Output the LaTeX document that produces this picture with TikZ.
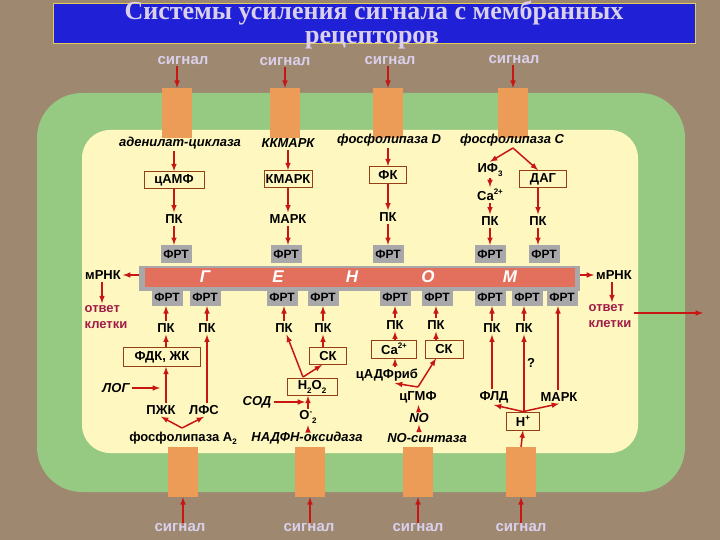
\documentclass[tikz,border=0pt]{standalone}
\usepackage{fontspec}
\setmainfont{Liberation Sans}
\newfontfamily\titlefont{Liberation Serif}

\definecolor{bgbrown}{RGB}{158,136,112}
\definecolor{titleblue}{RGB}{32,32,215}
\definecolor{titleedge}{RGB}{225,205,90}
\definecolor{siglav}{RGB}{218,208,236}
\definecolor{cellgreen}{RGB}{150,202,130}
\definecolor{cellyellow}{RGB}{254,248,192}
\definecolor{recorange}{RGB}{236,156,86}
\definecolor{arrred}{RGB}{200,22,18}
\definecolor{genred}{RGB}{226,112,92}
\definecolor{frtgray}{RGB}{168,168,170}
\definecolor{boxbrown}{RGB}{150,62,22}
\definecolor{respred}{RGB}{160,28,72}

\newcommand{\lowtxt}[1]{\raisebox{-0.45ex}{\fontsize{8}{8}\selectfont #1}}
\newcommand{\hightxt}[1]{\raisebox{0.85ex}{\fontsize{8}{8}\selectfont #1}}

\begin{document}
\begin{tikzpicture}[x=1pt,y=-1pt,>=latex,
    lbl/.style={draw=none,align=center,font=\bfseries\fontsize{13}{15}\selectfont,inner sep=2pt},
    ital/.style={lbl,font=\bfseries\itshape\fontsize{13}{15}\selectfont},
    box/.style={lbl,draw=boxbrown,line width=0.8pt,inner sep=1pt,minimum height=17pt},
    frt/.style={lbl,fill=frtgray,font=\bfseries\fontsize{12}{14}\selectfont,minimum width=31pt,minimum height=18pt,inner sep=1pt},
    rec/.style={fill=recorange,minimum width=30pt,minimum height=50pt,inner sep=0pt},
    sig/.style={draw=none,text=siglav,font=\bfseries\fontsize{15}{17}\selectfont,inner sep=1pt},
    arr/.style={->,draw=arrred,line width=1.5pt},
    resp/.style={lbl,text=respred,align=left,font=\bfseries\fontsize{13}{16}\selectfont}]
    \fill [bgbrown] (0,0) rectangle (720,540);
    \useasboundingbox (0,0) rectangle (720,540);

    % title
    \draw [titleedge,fill=titleblue,line width=0.8pt] (53,3) rectangle (695,43);
    \node [draw=none,text=siglav,inner sep=0pt,font=\titlefont\bfseries\fontsize{26}{28}\selectfont, name=ttl1] at (374,13) {Системы усиления сигнала с мембранных};
    \node [draw=none,text=siglav,inner sep=0pt,font=\titlefont\bfseries\fontsize{26}{28}\selectfont, name=ttl2] at (372,40) {рецепторов};

    % cell
    \fill [cellgreen,rounded corners=45pt] (37,93) rectangle (685,492);
    \fill [cellyellow,rounded corners=28pt] (82,130) rectangle (638,453);

    % receptors above
    \node [rec, name=t1] at (177,113) {};
    \node [rec, name=t2] at (285,113) {};
    \node [rec, name=t3] at (388,113) {};
    \node [rec, name=t4] at (513,113) {};
    \node [sig, name=s1] at (183,61) {сигнал};
    \node [sig, name=s2] at (285,62) {сигнал};
    \node [sig, name=s3] at (390,61) {сигнал};
    \node [sig, name=s4] at (514,60) {сигнал};
    \draw [arr] (s1.south -| t1) -- (t1.north);
    \draw [arr] (s2.south -| t2) -- (t2.north);
    \draw [arr] (s3.south -| t3) -- (t3.north);
    \draw [arr] (s4.south -| t4) -- (t4.north);

    % receptors below
    \node [rec, name=u1] at (183,472) {};
    \node [rec, name=u2] at (310,472) {};
    \node [rec, name=u3] at (418,472) {};
    \node [rec, name=u4] at (521,472) {};
    \node [sig, name=v1] at (180,528) {сигнал};
    \node [sig, name=v2] at (309,528) {сигнал};
    \node [sig, name=v3] at (418,528) {сигнал};
    \node [sig, name=v4] at (521,528) {сигнал};
    \draw [arr] (v1.north -| u1) -- (u1.south);
    \draw [arr] (v2.north -| u2) -- (u2.south);
    \draw [arr] (v3.north -| u3) -- (u3.south);
    \draw [arr] (v4.north -| u4) -- (u4.south);

    % genome
    \node [fill=frtgray,minimum width=441pt,minimum height=25pt,inner sep=0pt, name=gsh] at (359.5,278.5) {};
    \node [fill=genred,minimum width=430pt,minimum height=19pt,inner sep=0pt, name=gen] at (360,277.5) {};
    \node [text=white,font=\bfseries\itshape\fontsize{17}{17}\selectfont, name=g1] at (205,277) {Г};
    \node [text=white,font=\bfseries\itshape\fontsize{17}{17}\selectfont, name=g2] at (278,277) {Е};
    \node [text=white,font=\bfseries\itshape\fontsize{17}{17}\selectfont, name=g3] at (352,277) {Н};
    \node [text=white,font=\bfseries\itshape\fontsize{17}{17}\selectfont, name=g4] at (428,277) {О};
    \node [text=white,font=\bfseries\itshape\fontsize{17}{17}\selectfont, name=g5] at (510,277) {М};

    % mRNA and cell response
    \node [lbl, name=m1] at (103,275) {мРНК};
    \node [lbl, name=m2] at (614,275) {мРНК};
    \draw [arr] (gsh.west |- m1) -- (m1);
    \draw [arr] (gsh.east |- m2) -- (m2);
    \node [resp, name=r1] at (106,317) {ответ\\клетки};
    \node [resp, name=r2] at (610,316) {ответ\\клетки};
    \draw [arr] (m1.south -| 102,0) -- (r1.north -| 102,0);
    \draw [arr] (m2.south -| 612,0) -- (r2.north -| 612,0);
    \coordinate (out) at (703,313);
    \draw [arr] (r2.east |- out) -- (out);

    % adenylate cyclase
    \node [ital, name=a1] at (180,143) {аденилат-циклаза};
    \node [box, minimum width=60pt, name=a2] at (174,180) {цАМФ};
    \node [lbl, name=a3] at (174,219) {ПК};
    \node [frt, name=a4] at (176,254) {ФРТ};
    \draw [arr] (a1.south -| a2) -- (a2.north);
    \draw [arr] (a2) -- (a3);
    \draw [arr] (a3) -- (a3 |- a4.north);

    % KKMAPK
    \node [ital, name=k1] at (288,143) {ККМАРК};
    \node [box, minimum width=48pt, name=k2] at (288,179) {КМАРК};
    \node [lbl, name=k3] at (288,219) {МАРК};
    \node [frt, name=k4] at (286,254) {ФРТ};
    \draw [arr] (k1) -- (k2);
    \draw [arr] (k2) -- (k3);
    \draw [arr] (k3) -- (k3 |- k4.north);

    % phospholipase D
    \node [ital, name=d1] at (389,140) {фосфолипаза D};
    \node [box, minimum width=37pt, name=d2] at (388,175) {ФК};
    \node [lbl, name=d3] at (388,217) {ПК};
    \node [frt, name=d4] at (388,254) {ФРТ};
    \draw [arr] (d1.south -| d2) -- (d2);
    \draw [arr] (d2) -- (d3);
    \draw [arr] (d3) -- (d4);

    % phospholipase C
    \node [ital, name=c1] at (512,140) {фосфолипаза C};
    \coordinate (c0) at (513,148);
    \node [lbl, name=c2] at (490,170) {ИФ\lowtxt{3}};
    \node [lbl, name=c3] at (490,195) {Ca\hightxt{2+}};
    \node [lbl, name=c4] at (490,221) {ПК};
    \node [frt, name=c5] at (490,254) {ФРТ};
    \node [box, minimum width=47pt, name=c6] at (543,179) {ДАГ};
    \node [lbl, name=c7] at (538,221) {ПК};
    \node [frt, name=c8] at (544,254) {ФРТ};
    \draw [arr] (c0) -- (c2.north);
    \draw [arr] (c0) -- ([xshift=-5pt]c6.north);
    \draw [arr] (c2) -- (c3);
    \draw [arr] (c3) -- (c4);
    \draw [arr] (c4) -- (c5);
    \draw [arr] (c6.south -| c7) -- (c7);
    \draw [arr] (c7) -- (c7 |- c8.north);

    % FRT below the genome
    \node [frt, name=f1] at (167,297) {ФРТ};
    \node [frt, name=f2] at (205,297) {ФРТ};
    \node [frt, name=f3] at (282,297) {ФРТ};
    \node [frt, name=f4] at (323,297) {ФРТ};
    \node [frt, name=f5] at (395,297) {ФРТ};
    \node [frt, name=f6] at (437,297) {ФРТ};
    \node [frt, name=f7] at (490,297) {ФРТ};
    \node [frt, name=f8] at (527,297) {ФРТ};
    \node [frt, name=f9] at (562,297) {ФРТ};
    \node [lbl, name=p1] at (166,328) {ПК};
    \node [lbl, name=p2] at (207,328) {ПК};
    \node [lbl, name=p3] at (284,328) {ПК};
    \node [lbl, name=p4] at (323,328) {ПК};
    \node [lbl, name=p5] at (395,325) {ПК};
    \node [lbl, name=p6] at (436,325) {ПК};
    \node [lbl, name=p7] at (492,328) {ПК};
    \node [lbl, name=p8] at (524,328) {ПК};
    \draw [arr] (p1) -- (p1 |- f1.south);
    \draw [arr] (p2) -- (p2 |- f2.south);
    \draw [arr] (p3) -- (p3 |- f3.south);
    \draw [arr] (p4) -- (f4);
    \draw [arr] (p5) -- (f5);
    \draw [arr] (p6) -- (p6 |- f6.south);
    \draw [arr] (p7) -- (p7 |- f7.south);
    \draw [arr] (p8) -- (p8 |- f8.south);

    % phospholipase A2
    \node [box, minimum width=77pt, minimum height=19pt, name=l1] at (162,357) {ФДК, ЖК};
    \node [lbl, name=l2] at (161,410) {ПЖК};
    \node [lbl, name=l3] at (204,410) {ЛФС};
    \node [ital, name=l4] at (116,388) {ЛОГ};
    \node [lbl, name=l5] at (183,438) {фосфолипаза A\lowtxt{2}};
    \coordinate (l0) at (182,428);
    \draw [arr] (l0) -- (l2.south);
    \draw [arr] (l0) -- (l3.south);
    \draw [arr] (l2.north -| p1) -- (l1.south -| p1);
    \draw [arr] (l1.north -| p1) -- (p1);
    \draw [arr] (l3.north -| p2) -- (p2);
    \draw [arr,shorten >=6pt] (l4) -- (l4 -| p1);

    % NADPH oxidase
    \node [box, minimum width=50pt, name=h1] at (312,387) {H\lowtxt{2}O\lowtxt{2}};
    \node [lbl, name=h2] at (308,417) {O\hightxt{-}\lowtxt{2}};
    \node [ital, name=h3] at (307,438) {НАДФН-оксидаза};
    \node [ital, name=h4] at (257,402) {СОД};
    \node [box, minimum width=37pt, name=h5] at (328,356) {СК};
    \coordinate (h0) at (303,377);
    \draw [arr] (h3.north -| h2) -- (h2);
    \draw [arr] (h2) -- (h1.south -| h2);
    \draw [arr,shorten >=3pt] (h4) -- (h4 -| h2);
    \draw [arr] (h0) -- (p3);
    \draw [arr] (h0) -- ([xshift=-6pt]h5.south);
    \draw [arr] (h5.north -| p4) -- (p4);

    % NO synthase
    \node [box, minimum width=45pt, minimum height=18pt, name=e1] at (394,349) {Ca\hightxt{2+}};
    \node [box, minimum width=38pt, minimum height=18pt, name=e2] at (444,349) {СК};
    \node [lbl, name=e3] at (387,375) {цАДФриб};
    \node [lbl, name=e4] at (418,397) {цГМФ};
    \node [ital, name=e5] at (419,418) {NO};
    \node [ital, name=e6] at (427,438) {NO-синтаза};
    \coordinate (e0) at (418,387);
    \draw [arr] (e1.north -| p5) -- (p5);
    \draw [arr] (e2.north -| p6) -- (p6);
    \draw [arr] (e3.north -| p5) -- (e1.south -| p5);
    \draw [arr] (e0) -- (e3.south -| p5);
    \draw [arr] (e0) -- (e2.south -| p6);
    \draw [arr] (e5) -- (e4);
    \draw [arr] (e6.north -| e5) -- (e5);

    % H+
    \node [lbl, name=q1] at (494,397) {ФЛД};
    \node [lbl, name=q2] at (559,397) {МАРК};
    \node [box, minimum width=33pt, minimum height=18pt, name=q3] at (523,421) {H\hightxt{+}};
    \node [lbl, name=q4] at (531,363) {?};
    \draw [arr] (q3.north) -- (q1.south);
    \draw [arr] (q3.north) -- (q2.south);
    \draw [arr] (q1.north -| p7) -- (p7);
    \draw [arr] (q3.north -| p8) -- (p8);
    \draw [arr] (q2.north -| 558,0) -- (f9.south -| 558,0);
    \draw [arr] (u4.north) -- (q3.south);
  \end{tikzpicture}
\end{document}
